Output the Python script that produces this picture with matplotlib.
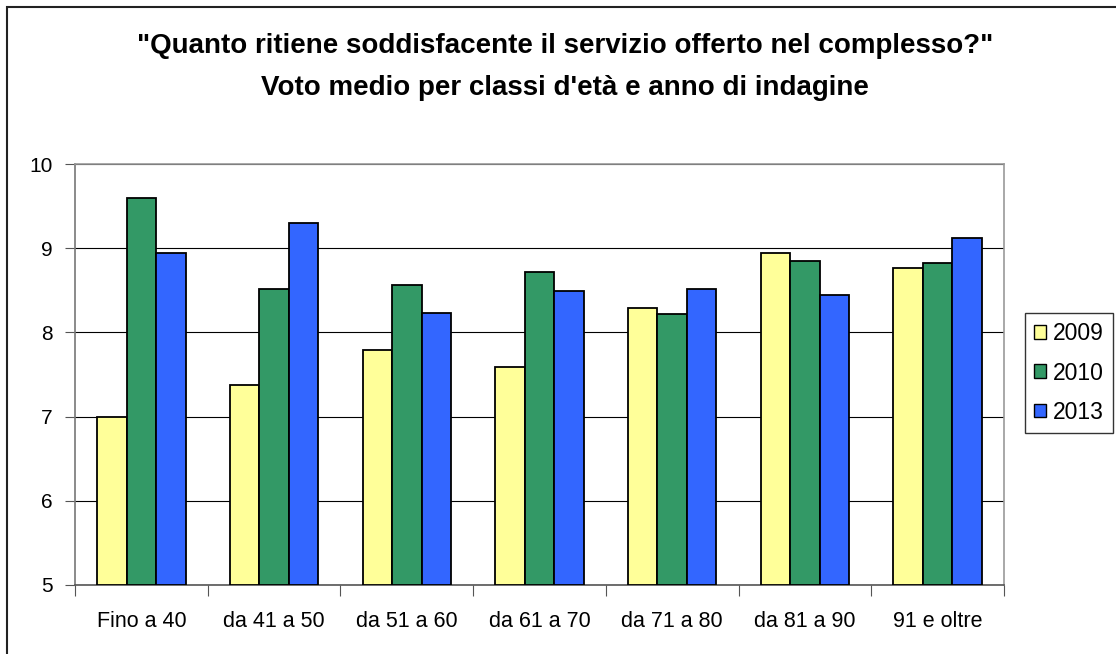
import numpy as np
import matplotlib.pyplot as plt
from matplotlib.patches import Rectangle

plt.rcParams['font.family'] = ['Liberation Sans', 'DejaVu Sans']

# Data
categories = ["Fino a 40", "da 41 a 50", "da 51 a 60", "da 61 a 70",
              "da 71 a 80", "da 81 a 90", "91 e oltre"]
years = ["2009", "2010", "2013"]
v2009 = [7.00, 7.38, 7.79, 7.59, 8.29, 8.94, 8.76]
v2010 = [9.60, 8.51, 8.56, 8.72, 8.22, 8.85, 8.82]
v2013 = [8.94, 9.30, 8.23, 8.49, 8.51, 8.45, 9.12]
colors = ["#FFFF99", "#339966", "#3366FF"]

W, H = 1116, 654
fig = plt.figure(figsize=(W / 100, H / 100), dpi=100)

# outer chart-area border (cut off at right and bottom)
fig.patches.append(Rectangle((7 / W, -0.1), 1.2, 1 - 7 / H + 0.1,
                             transform=fig.transFigure, fill=False,
                             edgecolor='#222222', linewidth=1.5))

ax = fig.add_axes([75 / W, 1 - 585 / H, (1004 - 75) / W, (585 - 164) / H])

x = np.arange(len(categories))
bw = 1 / 4.5  # Excel gap width 150%
for i, (vals, c, lab) in enumerate(zip([v2009, v2010, v2013], colors, years)):
    ax.bar(x + (i - 1) * bw, np.array(vals) - 5, bottom=5, width=bw,
           color=c, edgecolor='black', linewidth=1.3, label=lab, zorder=3)

ax.set_xlim(-0.5, len(categories) - 0.5)
ax.set_ylim(5, 10)
ax.set_yticks([5, 6, 7, 8, 9, 10])
ax.yaxis.grid(True, color='black', linewidth=0.8, zorder=0)
ax.tick_params(axis='y', direction='out', length=7, width=0.8, color='#555555',
               labelsize=15, pad=9)

ax.set_xticks(x)
ax.set_xticklabels(categories)
ax.set_xticks(np.arange(-0.5, len(categories)), minor=True)
ax.tick_params(axis='x', which='major', length=0, labelsize=15.5, pad=19)
ax.tick_params(axis='x', which='minor', direction='out', length=8, width=0.8,
               color='#555555')

for s in ax.spines.values():
    s.set_color('#999999')
    s.set_linewidth(1.2)
ax.spines['bottom'].set_color('#555555')
ax.spines['left'].set_color('#777777')

fig.text(565 / W, 1 - 46 / H,
         '"Quanto ritiene soddisfacente il servizio offerto nel complesso?"',
         ha='center', va='center', fontsize=20, fontweight='bold')
fig.text(565 / W, 1 - 88 / H, "Voto medio per classi d'età e anno di indagine",
         ha='center', va='center', fontsize=20, fontweight='bold')

leg = fig.legend(loc='center', bbox_to_anchor=(1069 / W, 1 - 373 / H),
                 fontsize=16.5, frameon=True, fancybox=False, handlelength=0.55,
                 handleheight=0.55, handletextpad=0.3, labelspacing=0.7,
                 borderpad=0.4, borderaxespad=0)
leg.get_frame().set_edgecolor('black')
leg.get_frame().set_linewidth(1.0)
for h in leg.legend_handles:
    h.set_linewidth(1.0)

fig.savefig('out.png', dpi=100)
